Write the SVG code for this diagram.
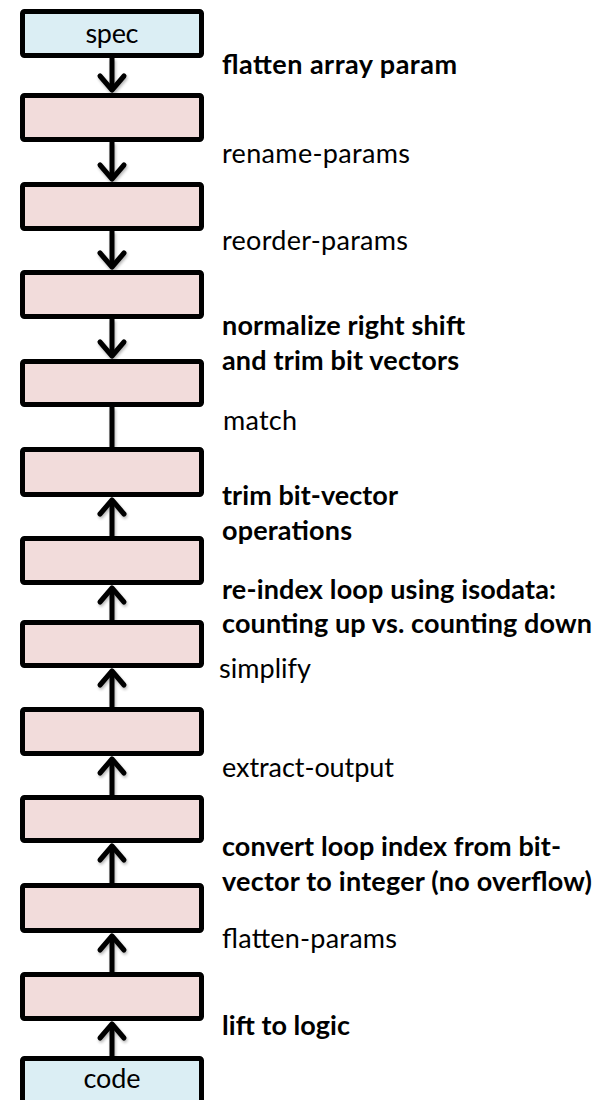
<svg xmlns="http://www.w3.org/2000/svg" width="613" height="1100" viewBox="0 0 613 1100">
  <style>
    .stage { fill: #F2DCDB; stroke: #000; stroke-width: 5; }
    .io { fill: #DBEEF4; stroke: #000; stroke-width: 5; }
    .edge { fill: none; stroke: #000; stroke-width: 5; }
    .lbl { font-family: Lato, "Liberation Sans", sans-serif; font-size: 27px; fill: #000; }
    .b { font-weight: bold; }
    .io-text { font-family: Lato, "Liberation Sans", sans-serif; font-size: 27px; fill: #000; text-anchor: middle; }
  </style>
  <defs>
    <marker id="head" viewBox="-20 -16 26 32" markerWidth="26" markerHeight="32" refX="0" refY="0" orient="auto" markerUnits="userSpaceOnUse" overflow="visible">
      <path d="M -14 -12 L 0 0 L -14 12" fill="none" stroke="#000" stroke-width="5" stroke-linecap="round" stroke-linejoin="round"/>
    </marker>
    <filter id="soft" filterUnits="userSpaceOnUse" x="0" y="0" width="613" height="1100">
      <feGaussianBlur in="SourceAlpha" stdDeviation="1.6"/>
      <feOffset dx="1" dy="2"/>
      <feComponentTransfer><feFuncA type="linear" slope="0.3"/></feComponentTransfer>
      <feMerge><feMergeNode/><feMergeNode in="SourceGraphic"/></feMerge>
    </filter>
  </defs>

  <!-- connectors: spec flows down to the match step, code flows up to it -->
  <g id="connectors" class="edge" filter="url(#soft)">
    <line x1="112" y1="58" x2="112" y2="90" marker-end="url(#head)"/>
    <line x1="112" y1="142" x2="112" y2="179" marker-end="url(#head)"/>
    <line x1="112" y1="231" x2="112" y2="267" marker-end="url(#head)"/>
    <line x1="112" y1="319" x2="112" y2="356" marker-end="url(#head)"/>
    <line x1="112" y1="407" x2="112" y2="447"/>
    <line x1="112" y1="536" x2="112" y2="500" marker-end="url(#head)"/>
    <line x1="112" y1="620" x2="112" y2="588" marker-end="url(#head)"/>
    <line x1="112" y1="707" x2="112" y2="671" marker-end="url(#head)"/>
    <line x1="112" y1="795" x2="112" y2="759" marker-end="url(#head)"/>
    <line x1="112" y1="883" x2="112" y2="846" marker-end="url(#head)"/>
    <line x1="112" y1="972" x2="112" y2="936" marker-end="url(#head)"/>
    <line x1="112" y1="1056" x2="112" y2="1024" marker-end="url(#head)"/>
  </g>

  <!-- boxes -->
  <g id="spec"><rect class="io" x="22.5" y="11.5" width="179" height="44" rx="2"/><text class="io-text" x="112" y="43" textLength="53">spec</text></g>
  <g id="step1"><rect class="stage" x="22.5" y="95.5" width="179" height="44" rx="2"/></g>
  <g id="step2"><rect class="stage" x="22.5" y="184.5" width="179" height="44" rx="2"/></g>
  <g id="step3"><rect class="stage" x="22.5" y="272.5" width="179" height="44" rx="2"/></g>
  <g id="step4"><rect class="stage" x="22.5" y="361.5" width="179" height="43" rx="2"/></g>
  <g id="step5"><rect class="stage" x="22.5" y="449.5" width="179" height="45" rx="2"/></g>
  <g id="step6"><rect class="stage" x="22.5" y="538.5" width="179" height="44" rx="2"/></g>
  <g id="step7"><rect class="stage" x="22.5" y="622.5" width="179" height="43" rx="2"/></g>
  <g id="step8"><rect class="stage" x="22.5" y="709.5" width="179" height="44" rx="2"/></g>
  <g id="step9"><rect class="stage" x="22.5" y="797.5" width="179" height="43" rx="2"/></g>
  <g id="step10"><rect class="stage" x="22.5" y="885.5" width="179" height="45" rx="2"/></g>
  <g id="step11"><rect class="stage" x="22.5" y="974.5" width="179" height="44" rx="2"/></g>
  <g id="code"><rect class="io" x="22.5" y="1058.5" width="179" height="48" rx="2"/><text class="io-text" x="112" y="1088" textLength="57">code</text></g>

  <!-- transformation labels -->
  <g id="labels" class="lbl">
    <text class="b" x="222" y="74" textLength="235">flatten array param</text>
    <text x="222" y="163" textLength="188">rename-params</text>
    <text x="222" y="250" textLength="186">reorder-params</text>
    <text class="b" x="222" y="335" textLength="243">normalize right shift</text>
    <text class="b" x="222" y="370" textLength="237">and trim bit vectors</text>
    <text x="223" y="430" textLength="74">match</text>
    <text class="b" x="222" y="505" textLength="176">trim bit-vector</text>
    <text class="b" x="222" y="540" textLength="130">operations</text>
    <text class="b" x="222" y="599" textLength="334">re-index loop using isodata:</text>
    <text class="b" x="222" y="633" textLength="370">counting up vs. counting down</text>
    <text x="219" y="678" textLength="92">simplify</text>
    <text x="222" y="777" textLength="172">extract-output</text>
    <text class="b" x="222" y="856" textLength="339">convert loop index from bit-</text>
    <text class="b" x="222" y="891" textLength="370">vector to integer (no overflow)</text>
    <text x="222" y="948" textLength="175">flatten-params</text>
    <text class="b" x="222" y="1035" textLength="128">lift to logic</text>
  </g>
</svg>
